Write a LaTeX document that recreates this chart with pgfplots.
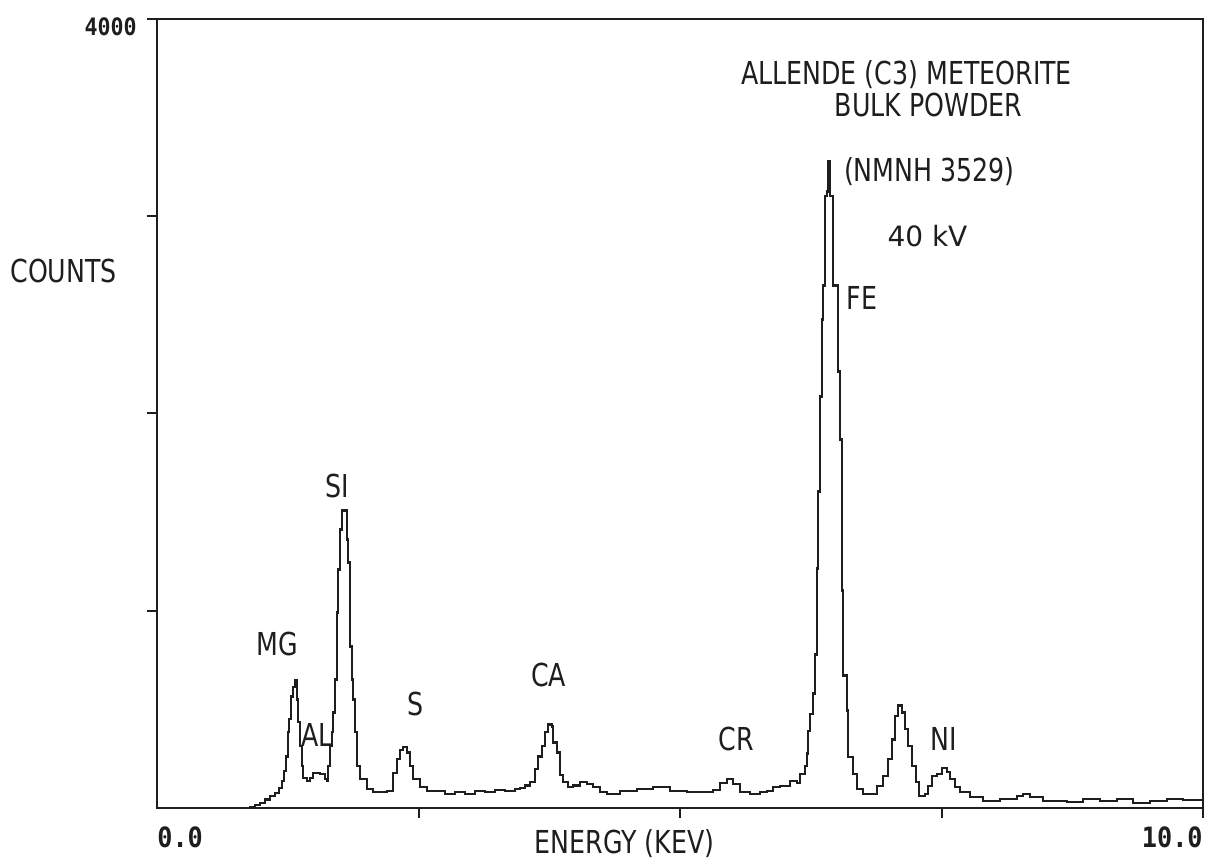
\documentclass[border=0pt]{standalone}
\usepackage{pgfplots}
\pgfplotsset{compat=1.18}
\usepackage{fontspec}
\setmainfont{DejaVu Sans}
\newfontfamily\plotfont{DejaVu Sans}[FakeStretch=0.8]
\newfontfamily\numfont{DejaVu Sans Mono}[FakeStretch=0.9]
\definecolor{ink}{HTML}{1E1E1E}
\newcommand{\pf}{\plotfont\fontsize{15.8}{18}\selectfont}
\begin{document}
\begin{tikzpicture}
\begin{axis}[
  scale only axis, width=523pt, height=394.5pt,
  xmin=0, xmax=10, ymin=0, ymax=4000,
  xtick={2.5,5,7.5,10}, xticklabels={},
  ytick={1000,2000,3000,4000}, yticklabels={},
  xtick pos=lower, ytick pos=left,
  tick align=outside, major tick length=5pt,
  tick style={line width=1pt, ink},
  axis line style={line width=1.4pt, ink},
  clip=false,
]
\addplot[const plot, ink, line width=1.4pt] coordinates {
(0.000,0) (0.411,0) (0.793,0) (0.889,5) (0.937,15) (0.985,25) (1.033,41) (1.080,61)
(1.128,76) (1.166,101) (1.195,137) (1.214,187) (1.233,263) (1.252,385) (1.262,451)
(1.281,567) (1.300,613) (1.319,648) (1.338,552) (1.348,436) (1.367,314) (1.386,213)
(1.396,152) (1.434,137) (1.463,152) (1.491,177) (1.558,172) (1.606,147) (1.625,137)
(1.635,213) (1.654,314) (1.673,385) (1.683,486) (1.702,653) (1.721,992) (1.730,1210)
(1.750,1413) (1.769,1509) (1.797,1509) (1.816,1362) (1.826,1245) (1.845,820)
(1.864,653) (1.874,552) (1.893,385) (1.912,213) (1.941,147) (2.008,96) (2.065,81)
(2.132,81) (2.199,86) (2.256,177) (2.294,248) (2.323,294) (2.352,309) (2.390,283)
(2.419,213) (2.447,147) (2.514,106) (2.581,86) (2.677,86) (2.753,71) (2.849,81)
(2.945,71) (3.040,86) (3.136,81) (3.231,91) (3.327,86) (3.423,96) (3.470,101)
(3.518,116) (3.566,132) (3.614,198) (3.642,263) (3.681,314) (3.709,385) (3.738,425)
(3.776,415) (3.786,334) (3.824,283) (3.853,167) (3.881,132) (3.929,106) (3.977,116)
(4.044,132) (4.111,122) (4.168,106) (4.235,81) (4.302,71) (4.426,86) (4.589,96)
(4.742,106) (4.904,86) (5.067,81) (5.258,81) (5.315,91) (5.382,127) (5.449,147)
(5.507,122) (5.574,81) (5.669,71) (5.765,81) (5.832,86) (5.889,106) (5.956,111)
(6.052,137) (6.119,127) (6.147,172) (6.195,213) (6.214,278) (6.224,390) (6.243,476)
(6.272,582) (6.291,780) (6.310,1215) (6.319,1605) (6.338,2086) (6.358,2476)
(6.367,2648) (6.386,3103) (6.405,3124) (6.415,3276) (6.424,3276) (6.434,3103)
(6.463,2648) (6.501,2648) (6.511,2213) (6.530,1868) (6.549,1103) (6.558,673)
(6.597,496) (6.606,258) (6.654,172) (6.692,96) (6.750,71) (6.817,71) (6.884,111)
(6.941,162) (6.989,248) (7.027,349) (7.056,466) (7.084,521) (7.122,486) (7.151,400)
(7.180,314) (7.218,213) (7.256,132) (7.285,61) (7.342,71) (7.371,111) (7.409,162)
(7.457,172) (7.505,203) (7.553,182) (7.581,147) (7.629,106) (7.677,81) (7.772,56)
(7.897,35) (8.059,46) (8.222,61) (8.279,71) (8.346,56) (8.470,35) (8.700,30)
(8.853,46) (9.015,35) (9.178,46) (9.331,25) (9.493,35) (9.656,46) (9.809,40)
(10.000,35)
};
\coordinate (SW) at (rel axis cs:0,0);
\coordinate (NE) at (rel axis cs:1,1);
\begin{scope}[every node/.style={inner sep=0pt, text=ink}]
\node[anchor=east] at (axis cs:-0.191,3959) {\numfont\bfseries\fontsize{12}{14}\selectfont 4000};
\node[anchor=west] at (axis cs:-1.405,2724) {\pf COUNTS};
\node[anchor=west] at (axis cs:0,-147) {\numfont\bfseries\fontsize{14}{16}\selectfont 0.0};
\node[anchor=east] at (axis cs:10,-147) {\numfont\bfseries\fontsize{14}{16}\selectfont 10.0};
\node at (axis cs:4.47,-182) {\pf ENERGY (KEV)};
\node at (axis cs:7.165,3716) {\pf ALLENDE (C3) METEORITE};
\node at (axis cs:7.376,3564) {\pf BULK POWDER};
\node at (axis cs:7.385,3225) {\pf (NMNH 3529)};
\node at (axis cs:7.366,2901) {\fontsize{14}{16}\selectfont 40 kV};
\node at (axis cs:6.74,2587) {\pf FE};
\node at (axis cs:1.726,1630) {\pf SI};
\node at (axis cs:1.152,830) {\pf MG};
\node at (axis cs:1.53,370) {\pf AL};
\node at (axis cs:2.476,527) {\pf S};
\node at (axis cs:3.743,673) {\pf CA};
\node at (axis cs:5.54,349) {\pf CR};
\node at (axis cs:7.524,349) {\pf NI};
\end{scope}
\end{axis}
\pgfresetboundingbox
\path ([xshift=-78.5pt,yshift=-27pt]SW) rectangle ([xshift=3pt,yshift=9.5pt]NE);
\end{tikzpicture}
\end{document}
